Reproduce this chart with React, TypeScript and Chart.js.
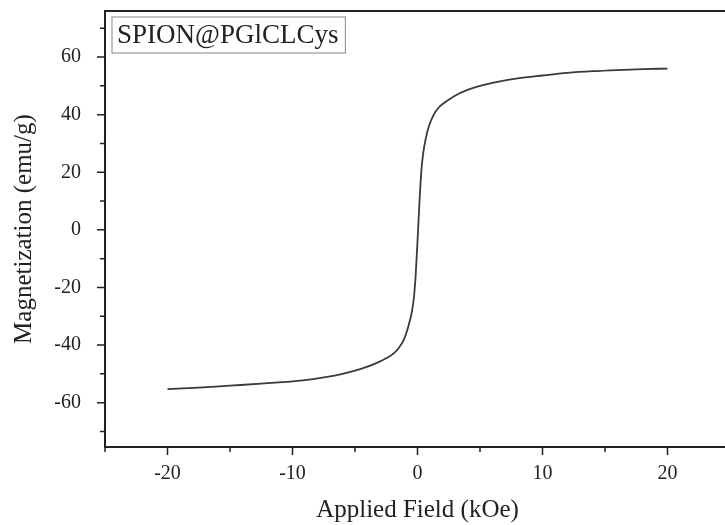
import React, { useEffect, useRef } from 'react';
import { Chart, registerables } from 'chart.js';

Chart.register(...registerables);

// Applied field (kOe) and magnetization (emu/g)
const fieldKOe = [
  -20, -17.5, -15, -12.5, -10, -8.5, -7, -6, -5, -4, -3.2, -2.5, -1.9, -1.5, -1.1, -0.7, -0.45, -0.3, -0.15,
  0, 0.15, 0.3, 0.45, 0.65, 0.9, 1.3, 1.7, 2.2, 3, 4, 5, 6.5, 8, 10, 12, 14, 16, 18, 20,
];
const magnetization = [
  -55.3, -54.8, -54.1, -53.4, -52.6, -51.9, -50.9, -50, -48.9, -47.5, -46.1, -44.6, -42.9, -41, -38.2, -33, -28.5, -24, -16,
  -4, 9, 20, 26.5, 31.5, 35.8, 40, 42.5, 44.3, 46.6, 48.6, 50, 51.5, 52.6, 53.6, 54.5, 55.1, 55.5, 55.8, 56,
];

const xMajorTicks = [-20, -10, 0, 10, 20];
const xMinorTicks = [-25, -15, -5, 5, 15, 25];
const yMajorTicks = [-60, -40, -20, 0, 20, 40, 60];
const yMinorTicks = [-70, -50, -30, -10, 10, 30, 50, 70];

const sampleLabel = 'SPION@PGlCLCys';
const xTitle = 'Applied Field (kOe)';
const yTitle = 'Magnetization (emu/g)';

const SERIF = '"Liberation Serif", "Times New Roman", serif';
const INK = '#222222';

const framePlugin = {
  id: 'framePlugin',
  afterDraw(chart: any) {
    const { ctx, chartArea: a, scales } = chart;
    const xs = scales.x;
    const ys = scales.y;
    ctx.save();
    // frame
    ctx.strokeStyle = INK;
    ctx.lineWidth = 2;
    ctx.strokeRect(a.left, a.top, a.right - a.left, a.bottom - a.top);
    // tick marks
    ctx.lineWidth = 1.5;
    ctx.beginPath();
    xMajorTicks.forEach((v) => {
      const p = xs.getPixelForValue(v);
      ctx.moveTo(p, a.bottom);
      ctx.lineTo(p, a.bottom + 8);
    });
    xMinorTicks.forEach((v) => {
      const p = xs.getPixelForValue(v);
      ctx.moveTo(p, a.bottom);
      ctx.lineTo(p, a.bottom + 5);
    });
    yMajorTicks.forEach((v) => {
      const p = ys.getPixelForValue(v);
      ctx.moveTo(a.left, p);
      ctx.lineTo(a.left - 8, p);
    });
    yMinorTicks.forEach((v) => {
      const p = ys.getPixelForValue(v);
      ctx.moveTo(a.left, p);
      ctx.lineTo(a.left - 5, p);
    });
    ctx.stroke();
    // sample label box
    ctx.font = `27px ${SERIF}`;
    const w = ctx.measureText(sampleLabel).width;
    const bx = a.left + 7;
    const by = a.top + 6;
    const bh = 36;
    ctx.strokeStyle = '#9a9a9a';
    ctx.lineWidth = 1.2;
    ctx.strokeRect(bx, by, w + 12, bh);
    ctx.fillStyle = INK;
    ctx.textBaseline = 'middle';
    ctx.textAlign = 'left';
    ctx.fillText(sampleLabel, bx + 5, by + bh / 2 + 1);
    ctx.restore();
  },
};

export default function App() {
  const canvasRef = useRef<HTMLCanvasElement | null>(null);

  useEffect(() => {
    const canvas = canvasRef.current;
    if (!canvas) return;
    const points = fieldKOe.map((x, i) => ({ x, y: magnetization[i] }));
    const chart = new Chart(canvas, {
      type: 'scatter',
      data: {
        datasets: [
          {
            data: points,
            showLine: true,
            borderColor: '#3a3a3a',
            borderWidth: 1.8,
            pointRadius: 0,
            cubicInterpolationMode: 'monotone',
            fill: false,
          } as any,
        ],
      },
      options: {
        responsive: false,
        animation: false,
        devicePixelRatio: 1,
        layout: { padding: { left: 0, top: 11, right: 5, bottom: 0 } },
        plugins: {
          legend: { display: false },
          tooltip: { enabled: false },
        },
        scales: {
          x: {
            type: 'linear',
            min: -25,
            max: 25,
            afterBuildTicks: (scale: any) => {
              scale.ticks = xMajorTicks.map((v) => ({ value: v }));
            },
            afterFit: (scale: any) => {
              scale.height = 78;
              scale.paddingLeft = 0;
              scale.paddingRight = 0;
            },
            grid: { display: false },
            border: { display: false },
            ticks: {
              padding: 7,
              color: INK,
              maxRotation: 0,
              font: { family: SERIF, size: 20 },
              callback: (v: any) => String(v),
            },
            title: {
              display: true,
              text: xTitle,
              color: INK,
              font: { family: SERIF, size: 25 },
              padding: { top: 0, bottom: 0 },
            },
          },
          y: {
            type: 'linear',
            min: -75.4,
            max: 76,
            afterBuildTicks: (scale: any) => {
              scale.ticks = yMajorTicks.map((v) => ({ value: v }));
            },
            afterFit: (scale: any) => {
              scale.width = 105;
              scale.paddingTop = 0;
              scale.paddingBottom = 0;
            },
            grid: { display: false },
            border: { display: false },
            ticks: {
              padding: 16,
              color: INK,
              font: { family: SERIF, size: 20 },
              callback: (v: any) => String(v),
            },
            title: {
              display: true,
              text: yTitle,
              color: INK,
              font: { family: SERIF, size: 25 },
              padding: { top: 9, bottom: 0 },
            },
          },
        },
      },
      plugins: [framePlugin],
    });
    return () => chart.destroy();
  }, []);

  return (
    <div
      style={{
        position: 'fixed',
        left: 0,
        top: 0,
        width: 725,
        height: 525,
        overflow: 'hidden',
        background: '#ffffff',
      }}
    >
      <canvas ref={canvasRef} width={735} height={525} style={{ display: 'block', width: 735, height: 525 }} />
    </div>
  );
}
